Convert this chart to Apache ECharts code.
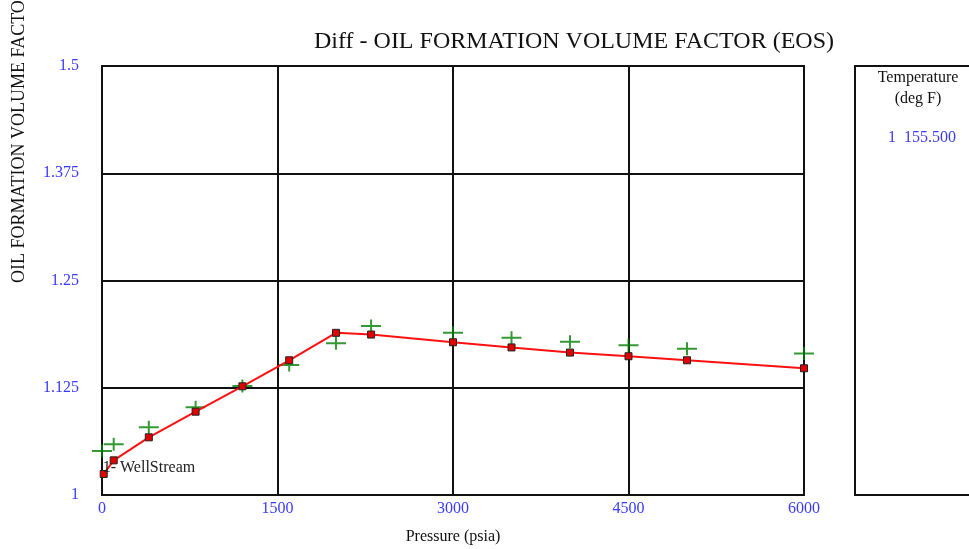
<!DOCTYPE html>
<html><head><meta charset="utf-8">
<script src="https://cdn.jsdelivr.net/npm/echarts@6/dist/echarts.min.js"></script>
<style>html,body{margin:0;padding:0;background:#fff}#c{width:969px;height:549px}</style>
</head><body><div id="c"></div>
<script>
// Calculated (EOS) curve
var calcPressure = [14.7, 100, 400, 800, 1200, 1600, 2000, 2300, 3000, 3500, 4000, 4500, 5000, 6000];
var calcBo = [1.0245, 1.0404, 1.0672, 1.0971, 1.1267, 1.157, 1.189, 1.187, 1.178, 1.172, 1.166, 1.1617, 1.157, 1.1477];
// Observed (lab) points
var obsPressure = [0, 100, 400, 800, 1200, 1600, 2000, 2300, 3000, 3500, 4000, 4500, 5000, 6000];
var obsBo = [1.0513, 1.0591, 1.0789, 1.1022, 1.127, 1.1515, 1.177, 1.197, 1.189, 1.1833, 1.1787, 1.1745, 1.1705, 1.165];
var xTicks = [0, 1500, 3000, 4500, 6000];
var yTicks = [1, 1.125, 1.25, 1.375, 1.5];
var seriesLabel = '1- WellStream';
var legendTitle = ['Temperature', '(deg F)'];
var legendEntry = '1  155.500';

var serif = '"Liberation Serif", "DejaVu Serif", serif';
var blue = '#3a3aff';
var chart = echarts.init(document.getElementById('c'));
var calcData = calcPressure.map(function(p, i){
  var d = {value:[p, calcBo[i]]};
  if (i === 0) d.label = {show:true, position:'right', offset:[-10,-6], formatter:seriesLabel,
    color:'#222', fontFamily:serif, fontSize:16};
  return d;
});
chart.setOption({
  animation:false,
  backgroundColor:'#fff',
  title:{text:'Diff - OIL FORMATION VOLUME FACTOR (EOS)', left:569, top:25, textAlign:'center',
    textStyle:{fontFamily:serif, fontSize:24, fontWeight:'normal', color:'#111'}},
  grid:{left:102, right:165, top:66, bottom:54, containLabel:false, outerBoundsMode:'none',
    show:true, borderColor:'#111', borderWidth:2, backgroundColor:'transparent'},
  xAxis:{type:'value', min:xTicks[0], max:xTicks[xTicks.length-1], interval:xTicks[1]-xTicks[0],
    name:'Pressure (psia)', nameLocation:'middle', nameGap:34,
    nameTextStyle:{fontFamily:serif, fontSize:16, color:'#111'},
    axisLine:{show:true, lineStyle:{color:'#111', width:2}}, axisTick:{show:false},
    axisLabel:{color:blue, fontFamily:serif, fontSize:16, margin:6, formatter:function(v){return String(v);}},
    splitLine:{show:true, lineStyle:{color:'#111', width:2}}},
  yAxis:{type:'value', min:yTicks[0], max:yTicks[yTicks.length-1], interval:yTicks[1]-yTicks[0],
    axisLine:{show:true, lineStyle:{color:'#111', width:2}}, axisTick:{show:false},
    axisLabel:{color:blue, fontFamily:serif, fontSize:16, margin:23},
    splitLine:{show:true, lineStyle:{color:'#111', width:2}}},
  graphic:[
    {type:'text', rotation:Math.PI/2, x:19, y:283, style:{text:'OIL FORMATION VOLUME FACTOR', fontFamily:serif, fontSize:18, fill:'#111', textAlign:'left', textVerticalAlign:'middle'}},
    {type:'rect', shape:{x:855, y:66, width:130, height:429}, style:{fill:'#fff', stroke:'#111', lineWidth:2}},
    {type:'text', x:918, y:78, style:{text:legendTitle[0], fontFamily:serif, fontSize:16, fill:'#111', textAlign:'center', textVerticalAlign:'middle'}},
    {type:'text', x:918, y:99, style:{text:legendTitle[1], fontFamily:serif, fontSize:16, fill:'#111', textAlign:'center', textVerticalAlign:'middle'}},
    {type:'text', x:922, y:138, style:{text:legendEntry, fontFamily:serif, fontSize:16, fill:blue, textAlign:'center', textVerticalAlign:'middle'}}
  ],
  series:[
    {type:'scatter', data:obsPressure.map(function(p,i){return [p, obsBo[i]];}),
      symbol:'path://M0,5.5H9V0H11V5.5H20V7.5H11V13H9V7.5H0Z', symbolSize:[20,13],
      itemStyle:{color:'#008000'}, z:2},
    {type:'line', data:calcData, symbol:'rect', symbolSize:7, showAllSymbol:true,
      lineStyle:{color:'#ff1010', width:2}, itemStyle:{color:'#e00000', borderColor:'#222', borderWidth:1}, z:3}
  ]
});
</script></body></html>
